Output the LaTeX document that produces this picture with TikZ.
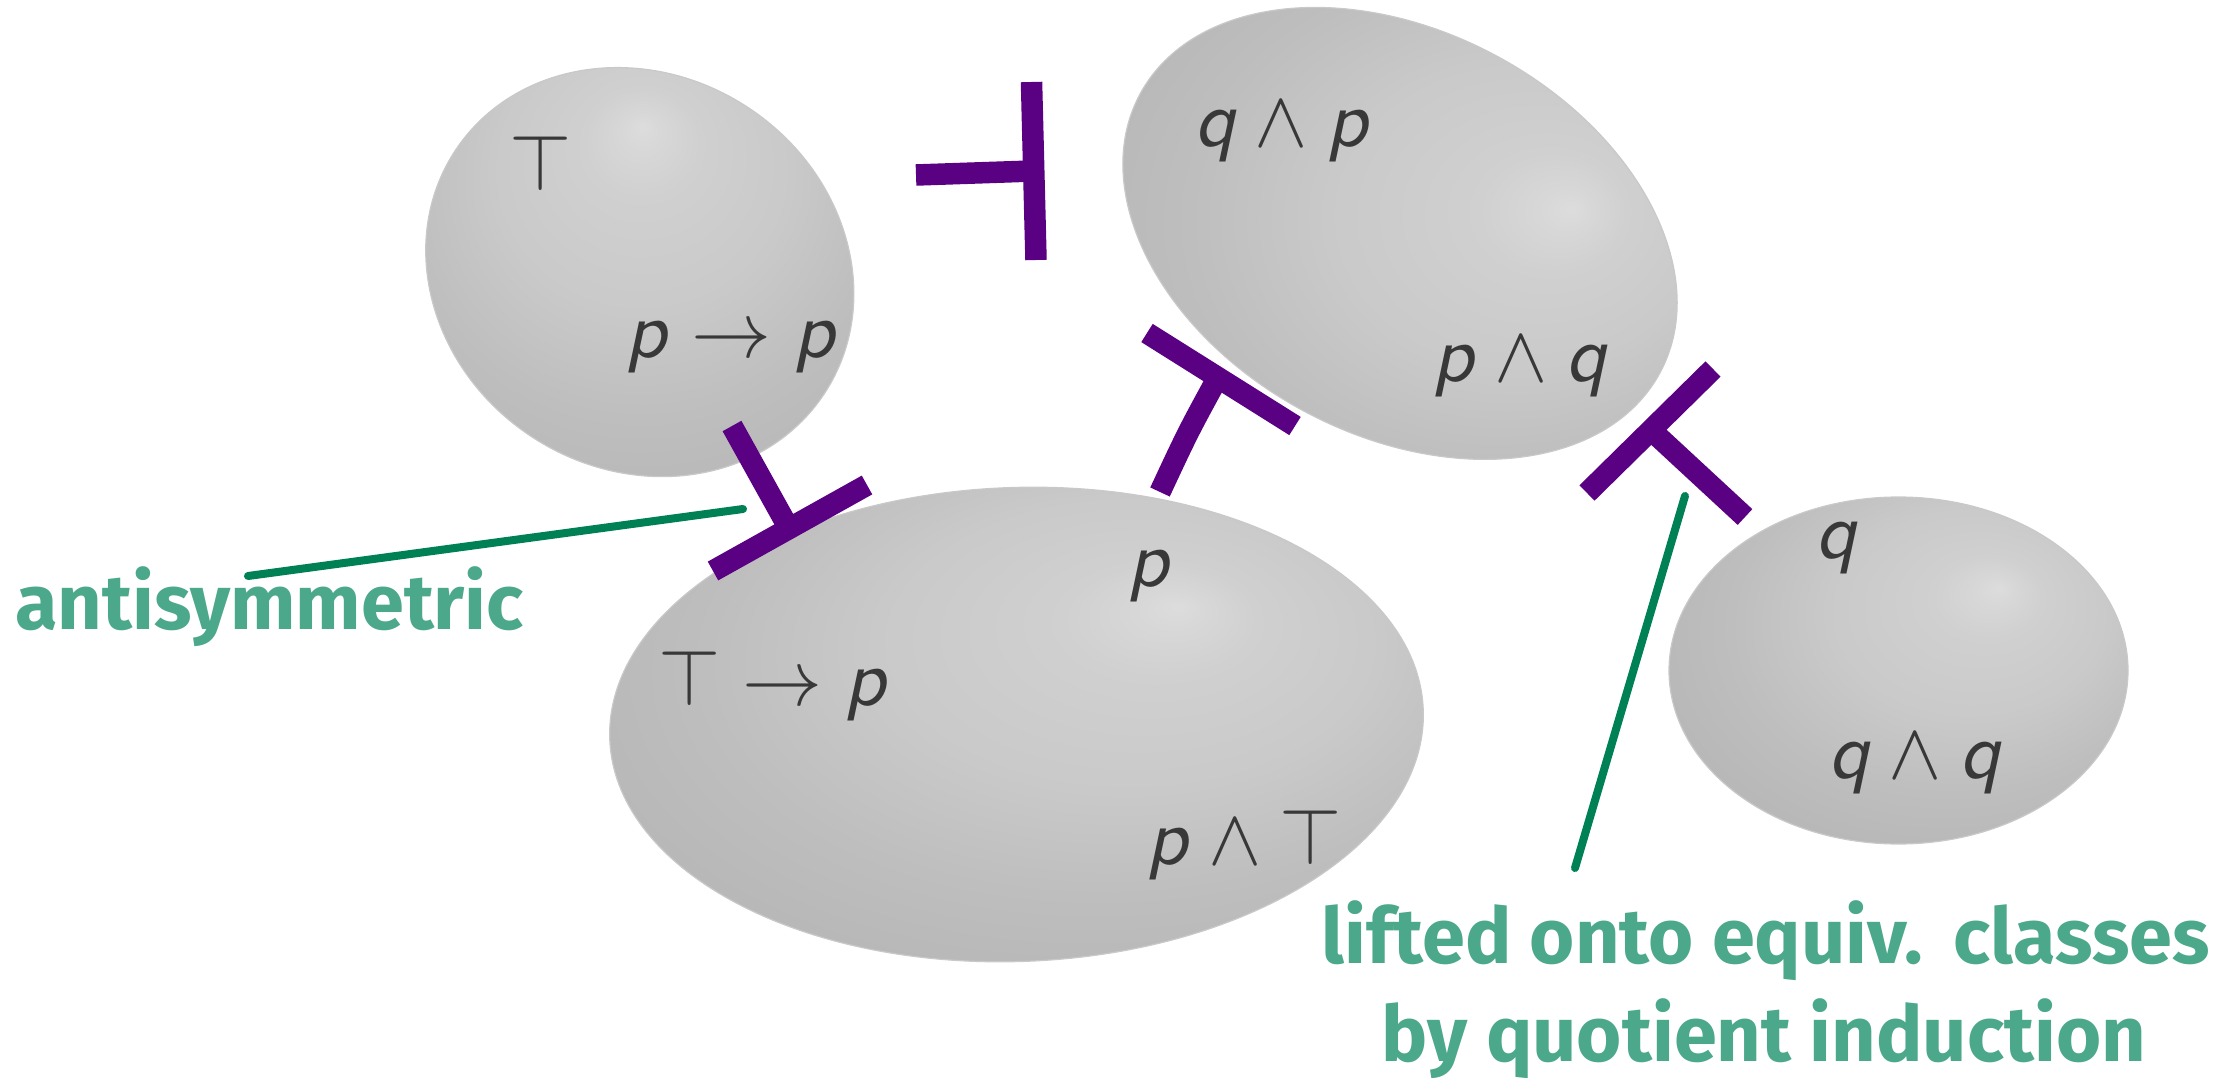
\documentclass[tikz,border=0pt]{standalone}
\usepackage{fontspec}
\newfontfamily\labfont{Fira Sans}
\definecolor{tpurple}{RGB}{90,0,130}
\definecolor{lgreen}{RGB}{0,128,85}
\definecolor{tgreen}{RGB}{76,168,138}
\definecolor{blobrim}{gray}{0.79}
\newcommand{\propP}{\textsf{\textsl{p}}}
\newcommand{\propQ}{\textsf{\textsl{q}}}
\newcommand{\blobspec}{rgb(0bp)=(.865,.865,.865); rgb(2bp)=(.845,.845,.845); rgb(6bp)=(.815,.815,.815); rgb(15bp)=(.79,.79,.79); rgb(24bp)=(.745,.745,.745); rgb(32.5bp)=(.715,.715,.715); rgb(50bp)=(.705,.705,.705)}
\pgfdeclareradialshading{blobA}{\pgfpoint{0.25bp}{15.75bp}}{\blobspec}
\pgfdeclareradialshading{blobB}{\pgfpoint{13.8bp}{2.35bp}}{\blobspec}
\pgfdeclareradialshading{blobC}{\pgfpoint{9.85bp}{12.7bp}}{\blobspec}
\pgfdeclareradialshading{blobD}{\pgfpoint{11bp}{11.9bp}}{\blobspec}
\begin{document}
\begin{tikzpicture}[x=1pt,y=-1pt,
  blob/.style={draw=blobrim, line width=1.2pt},
  turn/.style={draw=tpurple, line width=21.5pt},
  gline/.style={draw=lgreen, line width=8pt, line cap=round},
  mth/.style={anchor=base, inner sep=0pt, text=black!78, font=\fontsize{10}{12}\selectfont, scale=8, transform shape},
  lbl/.style={anchor=base, inner sep=0pt, text=tgreen, font=\labfont\bfseries\fontsize{77.5}{92}\selectfont}]
\useasboundingbox (0,0) rectangle (2238,1078);
% blobs
\shade[blob, shading=blobA, shift={(639.8,272.1)}, rotate=-33.3] (0,0) ellipse [x radius=221, y radius=197];
\shade[blob, shading=blobB, shift={(1400,233.4)}, rotate=-28.1] (0,0) ellipse [x radius=295, y radius=202];
\shade[blob, shading=blobC, shift={(1016.5,724.5)}, rotate=2.05] (0,0) ellipse [x radius=407, y radius=237];
\shade[blob, shading=blobD, shift={(1898.5,670.5)}] (0,0) ellipse [x radius=229.5, y radius=173.5];
% math labels
\node[mth] (top1) at (541,191) {$\top$};
\node[mth] (pimp) at (731.5,357.5) {$\propP\to\propP$};
\node[mth] (qap) at (1282.5,147) {$\propQ\wedge\propP$};
\node[mth] (paq) at (1520.5,381) {$\propP\wedge\propQ$};
\node[mth] (p) at (1150,586) {$\propP$};
\node[mth] (timp) at (773.5,705) {$\top\to\propP$};
\node[mth] (pat) at (1244.5,864) {$\propP\wedge\top$};
\node[mth] (q) at (1837,558) {$\propQ$};
\node[mth] (qaq) at (1915,778) {$\propQ\wedge\propQ$};
% turnstiles
\coordinate (T1top) at (1031.5,82);
\coordinate (T1bot) at (1036,260);
\coordinate (T1stem) at (916,175);
\coordinate (T1j) at (1033.5,171);
\draw[turn] (T1top) -- (T1bot);
\draw[turn] (T1stem) -- (T1j);
\coordinate (T2a) at (713,571);
\coordinate (T2b) at (867,485);
\coordinate (T2stem) at (732,426);
\coordinate (T2j) at (789,528.6);
\draw[turn] (T2a) -- (T2b);
\draw[turn] (T2stem) -- (T2j);
\coordinate (T3a) at (1147,333);
\coordinate (T3b) at (1295,426);
\coordinate (T3stem) at (1160,492);
\coordinate (T3j) at (1218,377);
\draw[turn] (T3a) -- (T3b);
\draw[turn] (T3stem) .. controls (1188,432) .. (T3j);
\coordinate (T4a) at (1587,493);
\coordinate (T4b) at (1713,369);
\coordinate (T4stem) at (1745,517);
\coordinate (T4j) at (1651,430);
\draw[turn] (T4a) -- (T4b);
\draw[turn] (T4stem) -- (T4j);
% green pointers
\coordinate (G1a) at (248,576);
\coordinate (G1b) at (743,509);
\coordinate (G2a) at (1575,868);
\coordinate (G2b) at (1685,496);
\draw[gline] (G1a) -- (G1b);
\draw[gline] (G2a) -- (G2b);
% labels
\node[lbl] (anti) at (269.5,629) {antisymmetric};
\node[lbl] (lift1) at (1765.5,963) {lifted onto equiv.\hspace{0.4em}classes};
\node[lbl] (lift2) at (1764,1061) {by quotient induction};
\end{tikzpicture}
\end{document}
